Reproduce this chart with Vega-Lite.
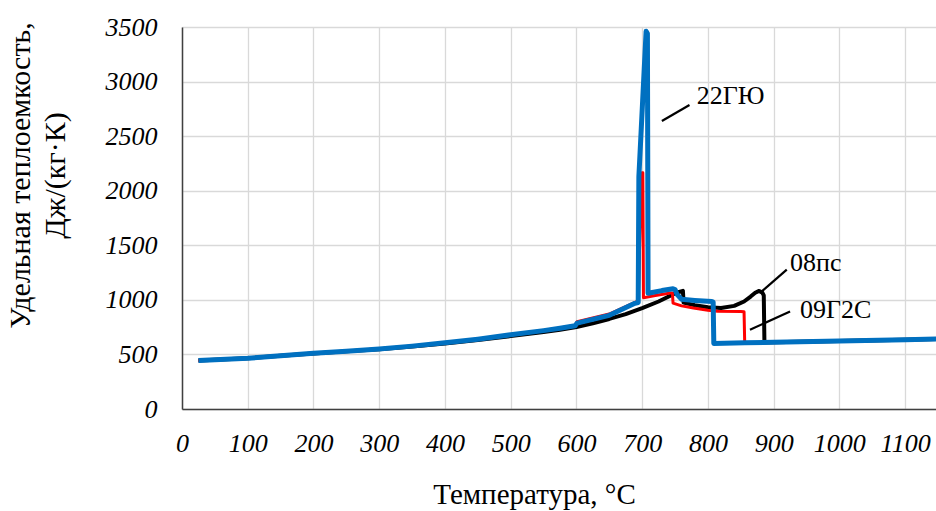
{
  "$schema": "https://vega.github.io/schema/vega-lite/v6.json",
  "width": 754,
  "height": 382,
  "autosize": {"type": "none"},
  "padding": {"left": 182, "top": 27, "right": 0, "bottom": 102},
  "background": "white",
  "config": {"view": {"stroke": null}, "font": "Liberation Serif"},
  "datasets": {
    "curves": [
      {"s": "08пс", "i": 0, "T": 25, "cp": 445},
      {"s": "08пс", "i": 1, "T": 100, "cp": 465},
      {"s": "08пс", "i": 2, "T": 150, "cp": 487},
      {"s": "08пс", "i": 3, "T": 200, "cp": 508},
      {"s": "08пс", "i": 4, "T": 250, "cp": 528},
      {"s": "08пс", "i": 5, "T": 300, "cp": 548},
      {"s": "08пс", "i": 6, "T": 350, "cp": 572},
      {"s": "08пс", "i": 7, "T": 400, "cp": 600},
      {"s": "08пс", "i": 8, "T": 450, "cp": 632},
      {"s": "08пс", "i": 9, "T": 500, "cp": 668},
      {"s": "08пс", "i": 10, "T": 550, "cp": 705},
      {"s": "08пс", "i": 11, "T": 575, "cp": 726},
      {"s": "08пс", "i": 12, "T": 600, "cp": 750},
      {"s": "08пс", "i": 13, "T": 625, "cp": 785},
      {"s": "08пс", "i": 14, "T": 650, "cp": 825},
      {"s": "08пс", "i": 15, "T": 675, "cp": 870},
      {"s": "08пс", "i": 16, "T": 700, "cp": 925},
      {"s": "08пс", "i": 17, "T": 725, "cp": 985},
      {"s": "08пс", "i": 18, "T": 742, "cp": 1035},
      {"s": "08пс", "i": 19, "T": 752, "cp": 1065},
      {"s": "08пс", "i": 20, "T": 762, "cp": 1082},
      {"s": "08пс", "i": 21, "T": 763, "cp": 975},
      {"s": "08пс", "i": 22, "T": 780, "cp": 950},
      {"s": "08пс", "i": 23, "T": 800, "cp": 932},
      {"s": "08пс", "i": 24, "T": 820, "cp": 925},
      {"s": "08пс", "i": 25, "T": 840, "cp": 945},
      {"s": "08пс", "i": 26, "T": 855, "cp": 985},
      {"s": "08пс", "i": 27, "T": 865, "cp": 1030},
      {"s": "08пс", "i": 28, "T": 872, "cp": 1065},
      {"s": "08пс", "i": 29, "T": 878, "cp": 1082},
      {"s": "08пс", "i": 30, "T": 883, "cp": 1065},
      {"s": "08пс", "i": 31, "T": 885, "cp": 1040},
      {"s": "08пс", "i": 32, "T": 886, "cp": 610},
      {"s": "08пс", "i": 33, "T": 900, "cp": 611},
      {"s": "08пс", "i": 34, "T": 1000, "cp": 623},
      {"s": "08пс", "i": 35, "T": 1100, "cp": 635},
      {"s": "08пс", "i": 36, "T": 1150, "cp": 641},

      {"s": "09Г2С", "i": 0, "T": 25, "cp": 445},
      {"s": "09Г2С", "i": 1, "T": 100, "cp": 465},
      {"s": "09Г2С", "i": 2, "T": 150, "cp": 487},
      {"s": "09Г2С", "i": 3, "T": 200, "cp": 510},
      {"s": "09Г2С", "i": 4, "T": 250, "cp": 530},
      {"s": "09Г2С", "i": 5, "T": 300, "cp": 550},
      {"s": "09Г2С", "i": 6, "T": 350, "cp": 576},
      {"s": "09Г2С", "i": 7, "T": 400, "cp": 606},
      {"s": "09Г2С", "i": 8, "T": 450, "cp": 640},
      {"s": "09Г2С", "i": 9, "T": 500, "cp": 680},
      {"s": "09Г2С", "i": 10, "T": 550, "cp": 720},
      {"s": "09Г2С", "i": 11, "T": 575, "cp": 742},
      {"s": "09Г2С", "i": 12, "T": 598, "cp": 765},
      {"s": "09Г2С", "i": 13, "T": 601, "cp": 800},
      {"s": "09Г2С", "i": 14, "T": 650, "cp": 870},
      {"s": "09Г2С", "i": 15, "T": 690, "cp": 980},
      {"s": "09Г2С", "i": 16, "T": 694, "cp": 990},
      {"s": "09Г2С", "i": 17, "T": 697, "cp": 1700},
      {"s": "09Г2С", "i": 18, "T": 700, "cp": 2165},
      {"s": "09Г2С", "i": 19, "T": 701, "cp": 2165},
      {"s": "09Г2С", "i": 20, "T": 702, "cp": 1020},
      {"s": "09Г2С", "i": 21, "T": 720, "cp": 1040},
      {"s": "09Г2С", "i": 22, "T": 743, "cp": 1063},
      {"s": "09Г2С", "i": 23, "T": 746, "cp": 1063},
      {"s": "09Г2С", "i": 24, "T": 747, "cp": 970},
      {"s": "09Г2С", "i": 25, "T": 760, "cp": 945},
      {"s": "09Г2С", "i": 26, "T": 778, "cp": 925},
      {"s": "09Г2С", "i": 27, "T": 800, "cp": 905},
      {"s": "09Г2С", "i": 28, "T": 815, "cp": 895},
      {"s": "09Г2С", "i": 29, "T": 850, "cp": 893},
      {"s": "09Г2С", "i": 30, "T": 855, "cp": 890},
      {"s": "09Г2С", "i": 31, "T": 856, "cp": 606},
      {"s": "09Г2С", "i": 32, "T": 900, "cp": 611},
      {"s": "09Г2С", "i": 33, "T": 1000, "cp": 623},
      {"s": "09Г2С", "i": 34, "T": 1100, "cp": 635},
      {"s": "09Г2С", "i": 35, "T": 1150, "cp": 641},

      {"s": "22ГЮ", "i": 0, "T": 25, "cp": 445},
      {"s": "22ГЮ", "i": 1, "T": 100, "cp": 465},
      {"s": "22ГЮ", "i": 2, "T": 150, "cp": 487},
      {"s": "22ГЮ", "i": 3, "T": 200, "cp": 510},
      {"s": "22ГЮ", "i": 4, "T": 250, "cp": 530},
      {"s": "22ГЮ", "i": 5, "T": 300, "cp": 550},
      {"s": "22ГЮ", "i": 6, "T": 350, "cp": 576},
      {"s": "22ГЮ", "i": 7, "T": 400, "cp": 606},
      {"s": "22ГЮ", "i": 8, "T": 450, "cp": 640},
      {"s": "22ГЮ", "i": 9, "T": 500, "cp": 680},
      {"s": "22ГЮ", "i": 10, "T": 550, "cp": 718},
      {"s": "22ГЮ", "i": 11, "T": 575, "cp": 740},
      {"s": "22ГЮ", "i": 12, "T": 598, "cp": 762},
      {"s": "22ГЮ", "i": 13, "T": 601, "cp": 787},
      {"s": "22ГЮ", "i": 14, "T": 650, "cp": 858},
      {"s": "22ГЮ", "i": 15, "T": 689, "cp": 968},
      {"s": "22ГЮ", "i": 16, "T": 694, "cp": 975},
      {"s": "22ГЮ", "i": 17, "T": 695, "cp": 2130},
      {"s": "22ГЮ", "i": 18, "T": 706, "cp": 3460},
      {"s": "22ГЮ", "i": 19, "T": 708, "cp": 3440},
      {"s": "22ГЮ", "i": 20, "T": 709, "cp": 1060},
      {"s": "22ГЮ", "i": 21, "T": 730, "cp": 1085},
      {"s": "22ГЮ", "i": 22, "T": 747, "cp": 1102},
      {"s": "22ГЮ", "i": 23, "T": 750, "cp": 1095},
      {"s": "22ГЮ", "i": 24, "T": 753, "cp": 1050},
      {"s": "22ГЮ", "i": 25, "T": 760, "cp": 1005},
      {"s": "22ГЮ", "i": 26, "T": 780, "cp": 995},
      {"s": "22ГЮ", "i": 27, "T": 806, "cp": 985},
      {"s": "22ГЮ", "i": 28, "T": 808, "cp": 980},
      {"s": "22ГЮ", "i": 29, "T": 809, "cp": 600},
      {"s": "22ГЮ", "i": 30, "T": 856, "cp": 606},
      {"s": "22ГЮ", "i": 31, "T": 900, "cp": 611},
      {"s": "22ГЮ", "i": 32, "T": 1000, "cp": 623},
      {"s": "22ГЮ", "i": 33, "T": 1100, "cp": 635},
      {"s": "22ГЮ", "i": 34, "T": 1150, "cp": 641}
    ],
    "leaders": [
      {"T": 730, "cp": 2639, "T2": 772, "cp2": 2786},
      {"T": 882, "cp": 1078, "T2": 920, "cp2": 1277},
      {"T": 864, "cp": 726, "T2": 925, "cp2": 894}
    ],
    "labels": [
      {"label": "22ГЮ", "T": 783, "cp": 2795},
      {"label": "08пс", "T": 925, "cp": 1261},
      {"label": "09Г2С", "T": 940, "cp": 833}
    ]
  },
  "layer": [
    {
      "data": {"name": "curves"},
      "transform": [{"filter": "datum.s === '08пс'"}],
      "mark": {"type": "line", "color": "#000000", "strokeWidth": 4, "clip": true, "strokeJoin": "round"},
      "encoding": {
        "x": {
          "field": "T", "type": "quantitative",
          "scale": {"domain": [0, 1147], "nice": false, "zero": false},
          "axis": {
            "values": [0, 100, 200, 300, 400, 500, 600, 700, 800, 900, 1000, 1100],
            "format": "d",
            "grid": true, "gridColor": "#D9D9D9", "gridWidth": 1.3,
            "domainColor": "#404040", "domainWidth": 1.5,
            "ticks": false, "tickSize": 0,
            "labelFont": "Liberation Serif", "labelFontStyle": "italic", "labelFontSize": 26,
            "labelColor": "#000000", "labelPadding": 21, "labelFlush": false, "labelOverlap": false,
            "title": "Температура, °C",
            "titleFont": "Liberation Serif", "titleFontSize": 29, "titleFontWeight": "normal",
            "titleColor": "#000000", "titleX": 352, "titleY": 94,
            "titleBaseline": "alphabetic", "titleAlign": "center"
          }
        },
        "y": {
          "field": "cp", "type": "quantitative",
          "scale": {"domain": [0, 3500], "nice": false, "zero": true},
          "axis": {
            "values": [0, 500, 1000, 1500, 2000, 2500, 3000, 3500],
            "format": "d",
            "grid": true, "gridColor": "#D9D9D9", "gridWidth": 1.3,
            "domainColor": "#404040", "domainWidth": 1.5,
            "ticks": false, "tickSize": 0,
            "labelFont": "Liberation Serif", "labelFontStyle": "italic", "labelFontSize": 26,
            "labelColor": "#000000", "labelPadding": 25, "labelFlush": false, "labelOverlap": false,
            "title": ["Удельная теплоемкость,", "Дж/(кг·К)"],
            "titleFont": "Liberation Serif", "titleFontSize": 30, "titleFontWeight": "normal",
            "titleColor": "#000000", "titleAngle": -90, "titleX": -162, "titleY": 148,
            "titleBaseline": "middle", "titleAlign": "center", "titleLineHeight": 35
          }
        },
        "order": {"field": "i", "type": "quantitative"}
      }
    },
    {
      "data": {"name": "curves"},
      "transform": [{"filter": "datum.s === '09Г2С'"}],
      "mark": {"type": "line", "color": "#FF0000", "strokeWidth": 3, "clip": true, "strokeJoin": "round"},
      "encoding": {
        "x": {"field": "T", "type": "quantitative"},
        "y": {"field": "cp", "type": "quantitative"},
        "order": {"field": "i", "type": "quantitative"}
      }
    },
    {
      "data": {"name": "curves"},
      "transform": [{"filter": "datum.s === '22ГЮ'"}],
      "mark": {"type": "line", "color": "#0070C0", "strokeWidth": 5, "clip": true, "strokeJoin": "round"},
      "encoding": {
        "x": {"field": "T", "type": "quantitative"},
        "y": {"field": "cp", "type": "quantitative"},
        "order": {"field": "i", "type": "quantitative"}
      }
    },
    {
      "data": {"name": "leaders"},
      "mark": {"type": "rule", "color": "#000000", "strokeWidth": 2.2},
      "encoding": {
        "x": {"field": "T", "type": "quantitative"},
        "y": {"field": "cp", "type": "quantitative"},
        "x2": {"field": "T2"},
        "y2": {"field": "cp2"}
      }
    },
    {
      "data": {"name": "labels"},
      "mark": {"type": "text", "font": "Liberation Serif", "fontSize": 26, "color": "#000000", "align": "left", "baseline": "alphabetic"},
      "encoding": {
        "x": {"field": "T", "type": "quantitative"},
        "y": {"field": "cp", "type": "quantitative"},
        "text": {"field": "label"}
      }
    }
  ]
}
